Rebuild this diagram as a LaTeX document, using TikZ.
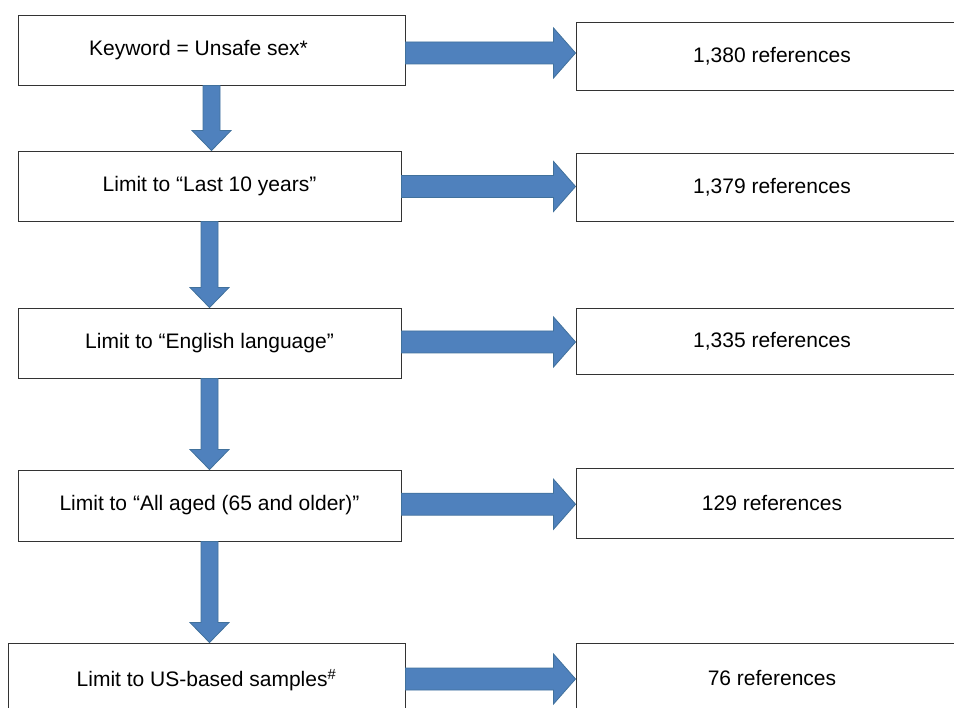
\documentclass[tikz,border=0pt]{standalone}
\usepackage{fontspec}
\setmainfont{Liberation Sans}
\usetikzlibrary{calc}
\definecolor{arrowblue}{HTML}{4F81BD}
\definecolor{arrowedge}{HTML}{41719C}
\tikzset{
  box/.style={draw=black!80, line width=0.9pt, fill=white, inner sep=0pt,
    minimum height=70pt, font=\fontsize{21}{25}\selectfont},
  fatarrow/.style={fill=arrowblue, draw=arrowedge, line width=0.8pt},
}
% block arrow from one box to the next
\newcommand{\harrow}[2]{%
  \path[fatarrow] let \p1=(#1.east), \p2=(#2.west), \p3=($(#1.east)!.5!(#2.west)$) in
    (\x1,\y3+11pt) -- (\x2-22pt,\y3+11pt) -- (\x2-22pt,\y3+25pt) -- (\x2,\y3)
    -- (\x2-22pt,\y3-25pt) -- (\x2-22pt,\y3-11pt) -- (\x1,\y3-11pt) -- cycle;}
\newcommand{\varrow}[2]{%
  \path[fatarrow] let \p1=(#1.south), \p2=(#2.north) in
    (\x1-8.5pt,\y1) -- (\x1-8.5pt,\y2+20pt) -- (\x1-19.5pt,\y2+20pt) -- (\x1,\y2)
    -- (\x1+19.5pt,\y2+20pt) -- (\x1+8.5pt,\y2+20pt) -- (\x1+8.5pt,\y1) -- cycle;}
\begin{document}
\begin{tikzpicture}[x=1pt,y=-1pt]
            \useasboundingbox (0,0) rectangle (954,708);
            \clip (0,0) rectangle (954,708);
            \node[box, minimum width=387pt] (1) at (211.5,50) {Keyword = Unsafe sex*\kern26pt};
            \node[box, minimum width=383pt] (2) at (209.5,186) {Limit to “Last 10 years”};
            \node[box, minimum width=383pt] (3) at (209.5,343) {Limit to “English language”};
            \node[box, minimum width=383pt, minimum height=71pt] (4) at (209.5,505.5) {Limit to “All aged (65 and older)”};
            \node[box, minimum width=397pt, minimum height=74pt] (5) at (206.5,680) {Limit to US-based samples\textsuperscript{\#}};
            \node[box, minimum width=392pt, minimum height=68pt] (6) at (772,56) {1,380 references};
            \node[box, minimum width=392pt, minimum height=68pt] (7) at (772,187) {1,379 references};
            \node[box, minimum width=392pt, minimum height=66pt] (8) at (772,341) {1,335 references};
            \node[box, minimum width=392pt] (9) at (772,503) {129 references};
            \node[box, minimum width=392pt] (10) at (772,678) {76 references};
            \harrow{1}{6}
            \harrow{2}{7}
            \harrow{3}{8}
            \harrow{4}{9}
            \harrow{5}{10}
            \varrow{1}{2}
            \varrow{2}{3}
            \varrow{3}{4}
            \varrow{4}{5}
        \end{tikzpicture}
\end{document}
